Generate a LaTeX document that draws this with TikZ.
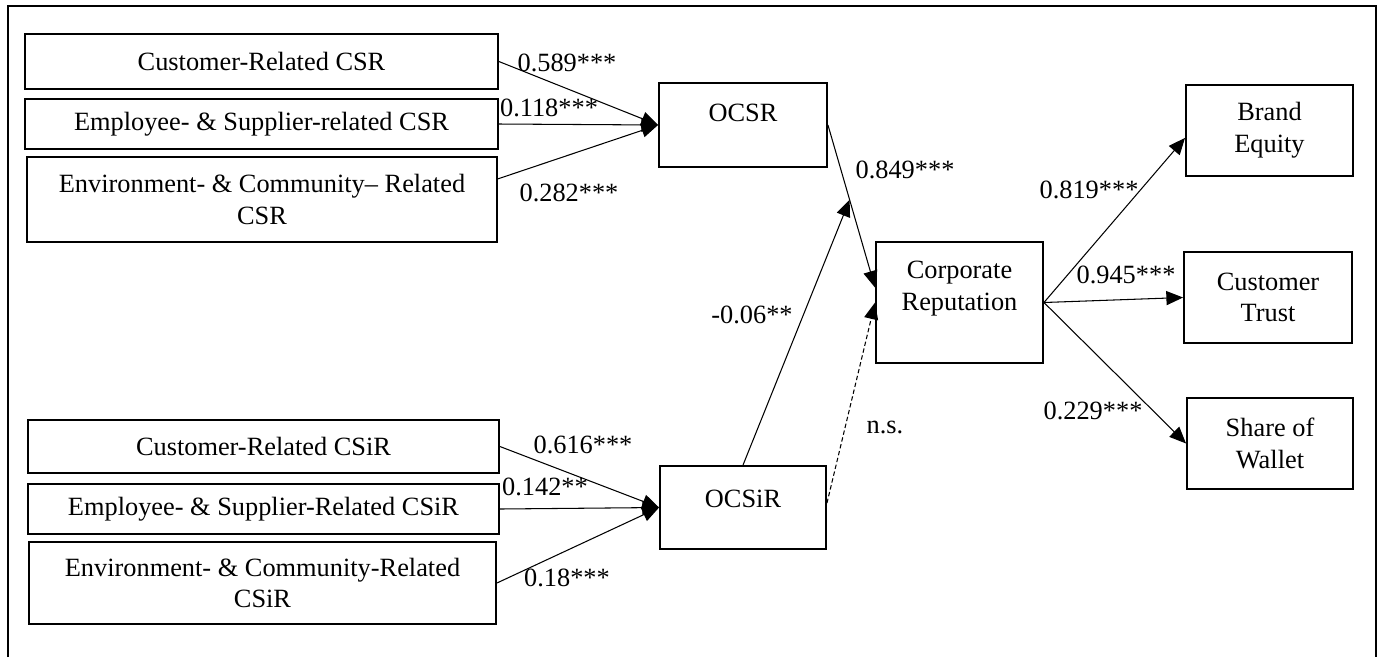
\documentclass[tikz,border=0pt]{standalone}
\usepackage{fontspec}
\setmainfont{Liberation Serif}
\usetikzlibrary{arrows.meta, calc, positioning}

\begin{document}
\begin{tikzpicture}[x=0.02cm, y=-0.02cm,
	every node/.style={font=\fontsize{15}{18}\selectfont},
	box/.style={draw, line width=1.1pt, inner sep=0pt, align=center},
	link/.style={-{Triangle[length=9.5pt, width=8pt]}, line width=0.6pt},
	coef/.style={inner sep=0pt}]
	\useasboundingbox (0,0) rectangle (1378,657);
	\draw[line width=1.2pt] (8,657) -- (8,6) -- (1376,6) -- (1376,657);
	
	% CSR dimensions
	\node[box, minimum width=9.46cm, minimum height=1.1cm] (ccsr) at (261.5,61.5) {Customer-Related CSR};
	\node[box, minimum width=9.46cm, minimum height=1.0cm] (escsr) at (261.5,124) {Employee- \& Supplier-related CSR};
	\node[box, minimum width=9.4cm, minimum height=1.7cm] (eccsr) at (262,199.5) {Environment- \& Community-- Related\\CSR};
	\node[box, minimum width=3.36cm, minimum height=1.68cm, text height=10pt, text depth=13.6pt] (ocsr) at (743,125) {OCSR};
	
	% CSiR dimensions
	\node[box, minimum width=9.42cm, minimum height=1.06cm] (ccsir) at (263.5,446.5) {Customer-Related CSiR};
	\node[box, minimum width=9.42cm, minimum height=1.0cm] (escsir) at (263.5,509) {Employee- \& Supplier-Related CSiR};
	\node[box, minimum width=9.34cm, minimum height=1.64cm] (eccsir) at (262.5,583) {Environment- \& Community-Related\\CSiR};
	\node[box, minimum width=3.32cm, minimum height=1.66cm, text height=10pt, text depth=10.2pt] (ocsir) at (743,507.5) {OCSiR};
	
	% reputation and outcomes
	\node[box, minimum width=3.34cm, minimum height=2.42cm, text height=20pt, text depth=10.8pt] (cr) at (959.5,302.5) {Corporate\\Reputation};
	\node[box, minimum width=3.34cm, minimum height=1.82cm] (be) at (1269.5,130.5) {Brand\\Equity};
	\node[box, minimum width=3.36cm, minimum height=1.82cm] (ct) at (1268,297.5) {Customer\\Trust};
	\node[box, minimum width=3.32cm, minimum height=1.82cm] (sw) at (1270,443.5) {Share of\\Wallet};
	
	\coordinate (mid) at ($(ocsr.east)!0.46!(cr.170)$);
	
	\draw[link] (ccsr.east) -- (ocsr.west);
	\draw[link] (escsr.east) -- (ocsr.west);
	\draw[link] (eccsr.5) -- (ocsr.west);
	\draw[link] (ccsir.east) -- (ocsir.west);
	\draw[link] (escsir.east) -- (ocsir.west);
	\draw[link] (eccsir.east) -- (ocsir.west);
	\draw[link] (ocsr.east) -- (cr.170);
	\draw[link] (ocsir.north) -- (mid);
	\draw[link, dash pattern=on 2.5pt off 1.5pt] (ocsir.3) -- (cr.west);
	\draw[link] (cr.east) -- (be.185);
	\draw[link] (cr.east) -- (ct.west);
	\draw[link] (cr.east) -- (sw.west);
	
	% path coefficients
	\node[coef] (k1) at (567,63) {0.589***};
	\node[coef] (k2) at (549,108) {0.118***};
	\node[coef] (k3) at (569,193) {0.282***};
	\node[coef] (k4) at (583,445) {0.616***};
	\node[coef] (k5) at (545,487) {0.142**};
	\node[coef] (k6) at (567,578) {0.18***};
	\node[coef] (k7) at (905,170) {0.849***};
	\node[coef] (k8) at (752,315) {-0.06**};
	\node[coef] (k9) at (885,427) {n.s.};
	\node[coef] (k10) at (1089,190) {0.819***};
	\node[coef] (k11) at (1126,275) {0.945***};
	\node[coef] (k12) at (1093,411) {0.229***};
\end{tikzpicture}
\end{document}
